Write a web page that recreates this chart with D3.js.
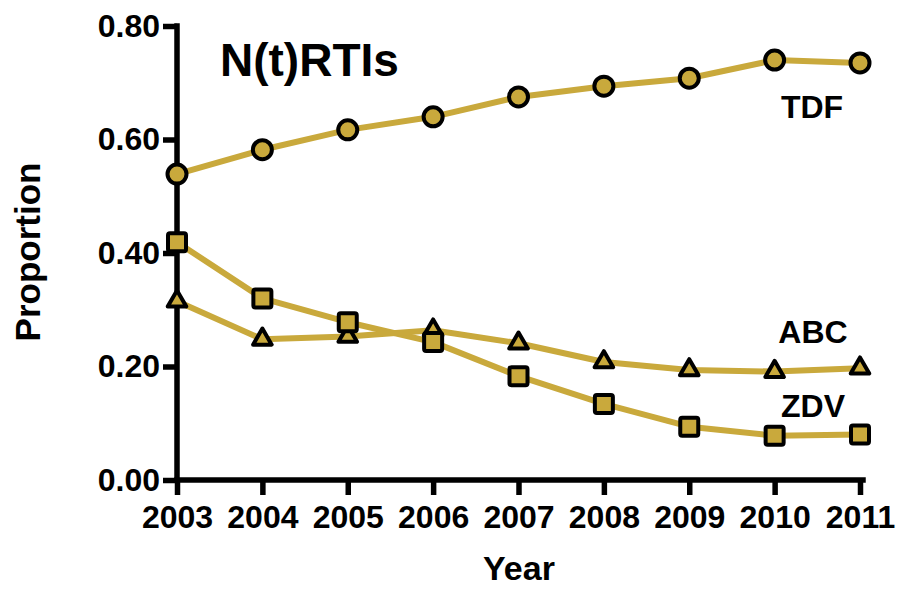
<!DOCTYPE html>
<html>
<head>
<meta charset="utf-8">
<script src="https://cdn.jsdelivr.net/npm/d3@7"></script>
<style>
  html, body { margin: 0; padding: 0; background: #fff; }
  svg { display: block; font-family: "Liberation Sans", Arial, sans-serif; }
</style>
</head>
<body>
<svg id="chart" width="897" height="589"></svg>
<script>
// Yearly proportions of N(t)RTI use
const years = [2003, 2004, 2005, 2006, 2007, 2008, 2009, 2010, 2011];
const tdf = [0.539, 0.582, 0.617, 0.640, 0.675, 0.694, 0.708, 0.740, 0.735];
const abc = [0.315, 0.248, 0.253, 0.264, 0.241, 0.208, 0.194, 0.191, 0.197];
const zdv = [0.419, 0.320, 0.278, 0.243, 0.183, 0.134, 0.094, 0.078, 0.080];
const yTicks = [0.00, 0.20, 0.40, 0.60, 0.80];

const gold = "#c9a93c";
const svg = d3.select("#chart");

const x = d3.scaleLinear().domain([2003, 2011]).range([177, 860]);
const y = d3.scaleLinear().domain([0, 0.8]).range([480, 26]);

// Axes
const yAxis = svg.append("g").attr("transform", "translate(177,0)")
  .call(d3.axisLeft(y).tickValues(yTicks).tickFormat(d3.format(".2f")).tickSize(14).tickPadding(3));
const xAxis = svg.append("g").attr("transform", "translate(0,480)")
  .call(d3.axisBottom(x).tickValues(years).tickFormat(d3.format("d")).tickSize(15).tickPadding(10));

[yAxis, xAxis].forEach(g => {
  g.select(".domain").attr("stroke", "#000").attr("stroke-width", 5.5).attr("stroke-linecap", "square");
  g.selectAll(".tick line").attr("stroke", "#000").attr("stroke-width", 5.5);
  g.selectAll(".tick text").attr("fill", "#000").attr("font-size", 32).attr("font-weight", "bold")
    .attr("font-family", "Liberation Sans, Arial, sans-serif");
});
yAxis.select(".domain").attr("d", "M0," + y(0.8) + "V" + y(0));
xAxis.select(".domain").attr("d", "M" + x(2003) + ",0H" + (x(2011) + 3));

// Lines
const line = vals => d3.line().x((d, i) => x(years[i])).y(d => y(d))(vals);
[tdf, zdv, abc].forEach(vals => {
  svg.append("path").attr("d", line(vals)).attr("fill", "none")
    .attr("stroke", gold).attr("stroke-width", 6).attr("stroke-linejoin", "round");
});

// Markers
const mk = svg.append("g").attr("stroke", "#000").attr("stroke-width", 4).attr("fill", gold);
mk.selectAll(".abc").data(abc).join("path")
  .attr("d", d3.symbol().type(d3.symbolTriangle).size(150))
  .attr("stroke-linejoin", "round")
  .attr("transform", (d, i) => `translate(${x(years[i])},${y(d)})`);
mk.selectAll(".zdv").data(zdv).join("rect")
  .attr("x", (d, i) => x(years[i]) - 9).attr("y", d => y(d) - 9)
  .attr("width", 18).attr("height", 18).attr("rx", 2);
mk.selectAll(".tdf").data(tdf).join("circle")
  .attr("cx", (d, i) => x(years[i])).attr("cy", d => y(d)).attr("r", 9.5);

// Text
const t = (txt, px, py, size, anchor) => svg.append("text").text(txt)
  .attr("x", px).attr("y", py).attr("font-size", size).attr("font-weight", "bold")
  .attr("text-anchor", anchor || "start").attr("fill", "#000");
t("N(t)RTIs", 220, 76, 46);
t("TDF", 812, 118, 32, "middle");
t("ABC", 813, 343, 32, "middle");
t("ZDV", 813, 417, 32, "middle");
t("Year", 519, 580, 34, "middle");
svg.append("text").text("Proportion").attr("transform", "translate(40,252) rotate(-90)")
  .attr("font-size", 35).attr("font-weight", "bold").attr("text-anchor", "middle").attr("fill", "#000");
</script>
</body>
</html>
